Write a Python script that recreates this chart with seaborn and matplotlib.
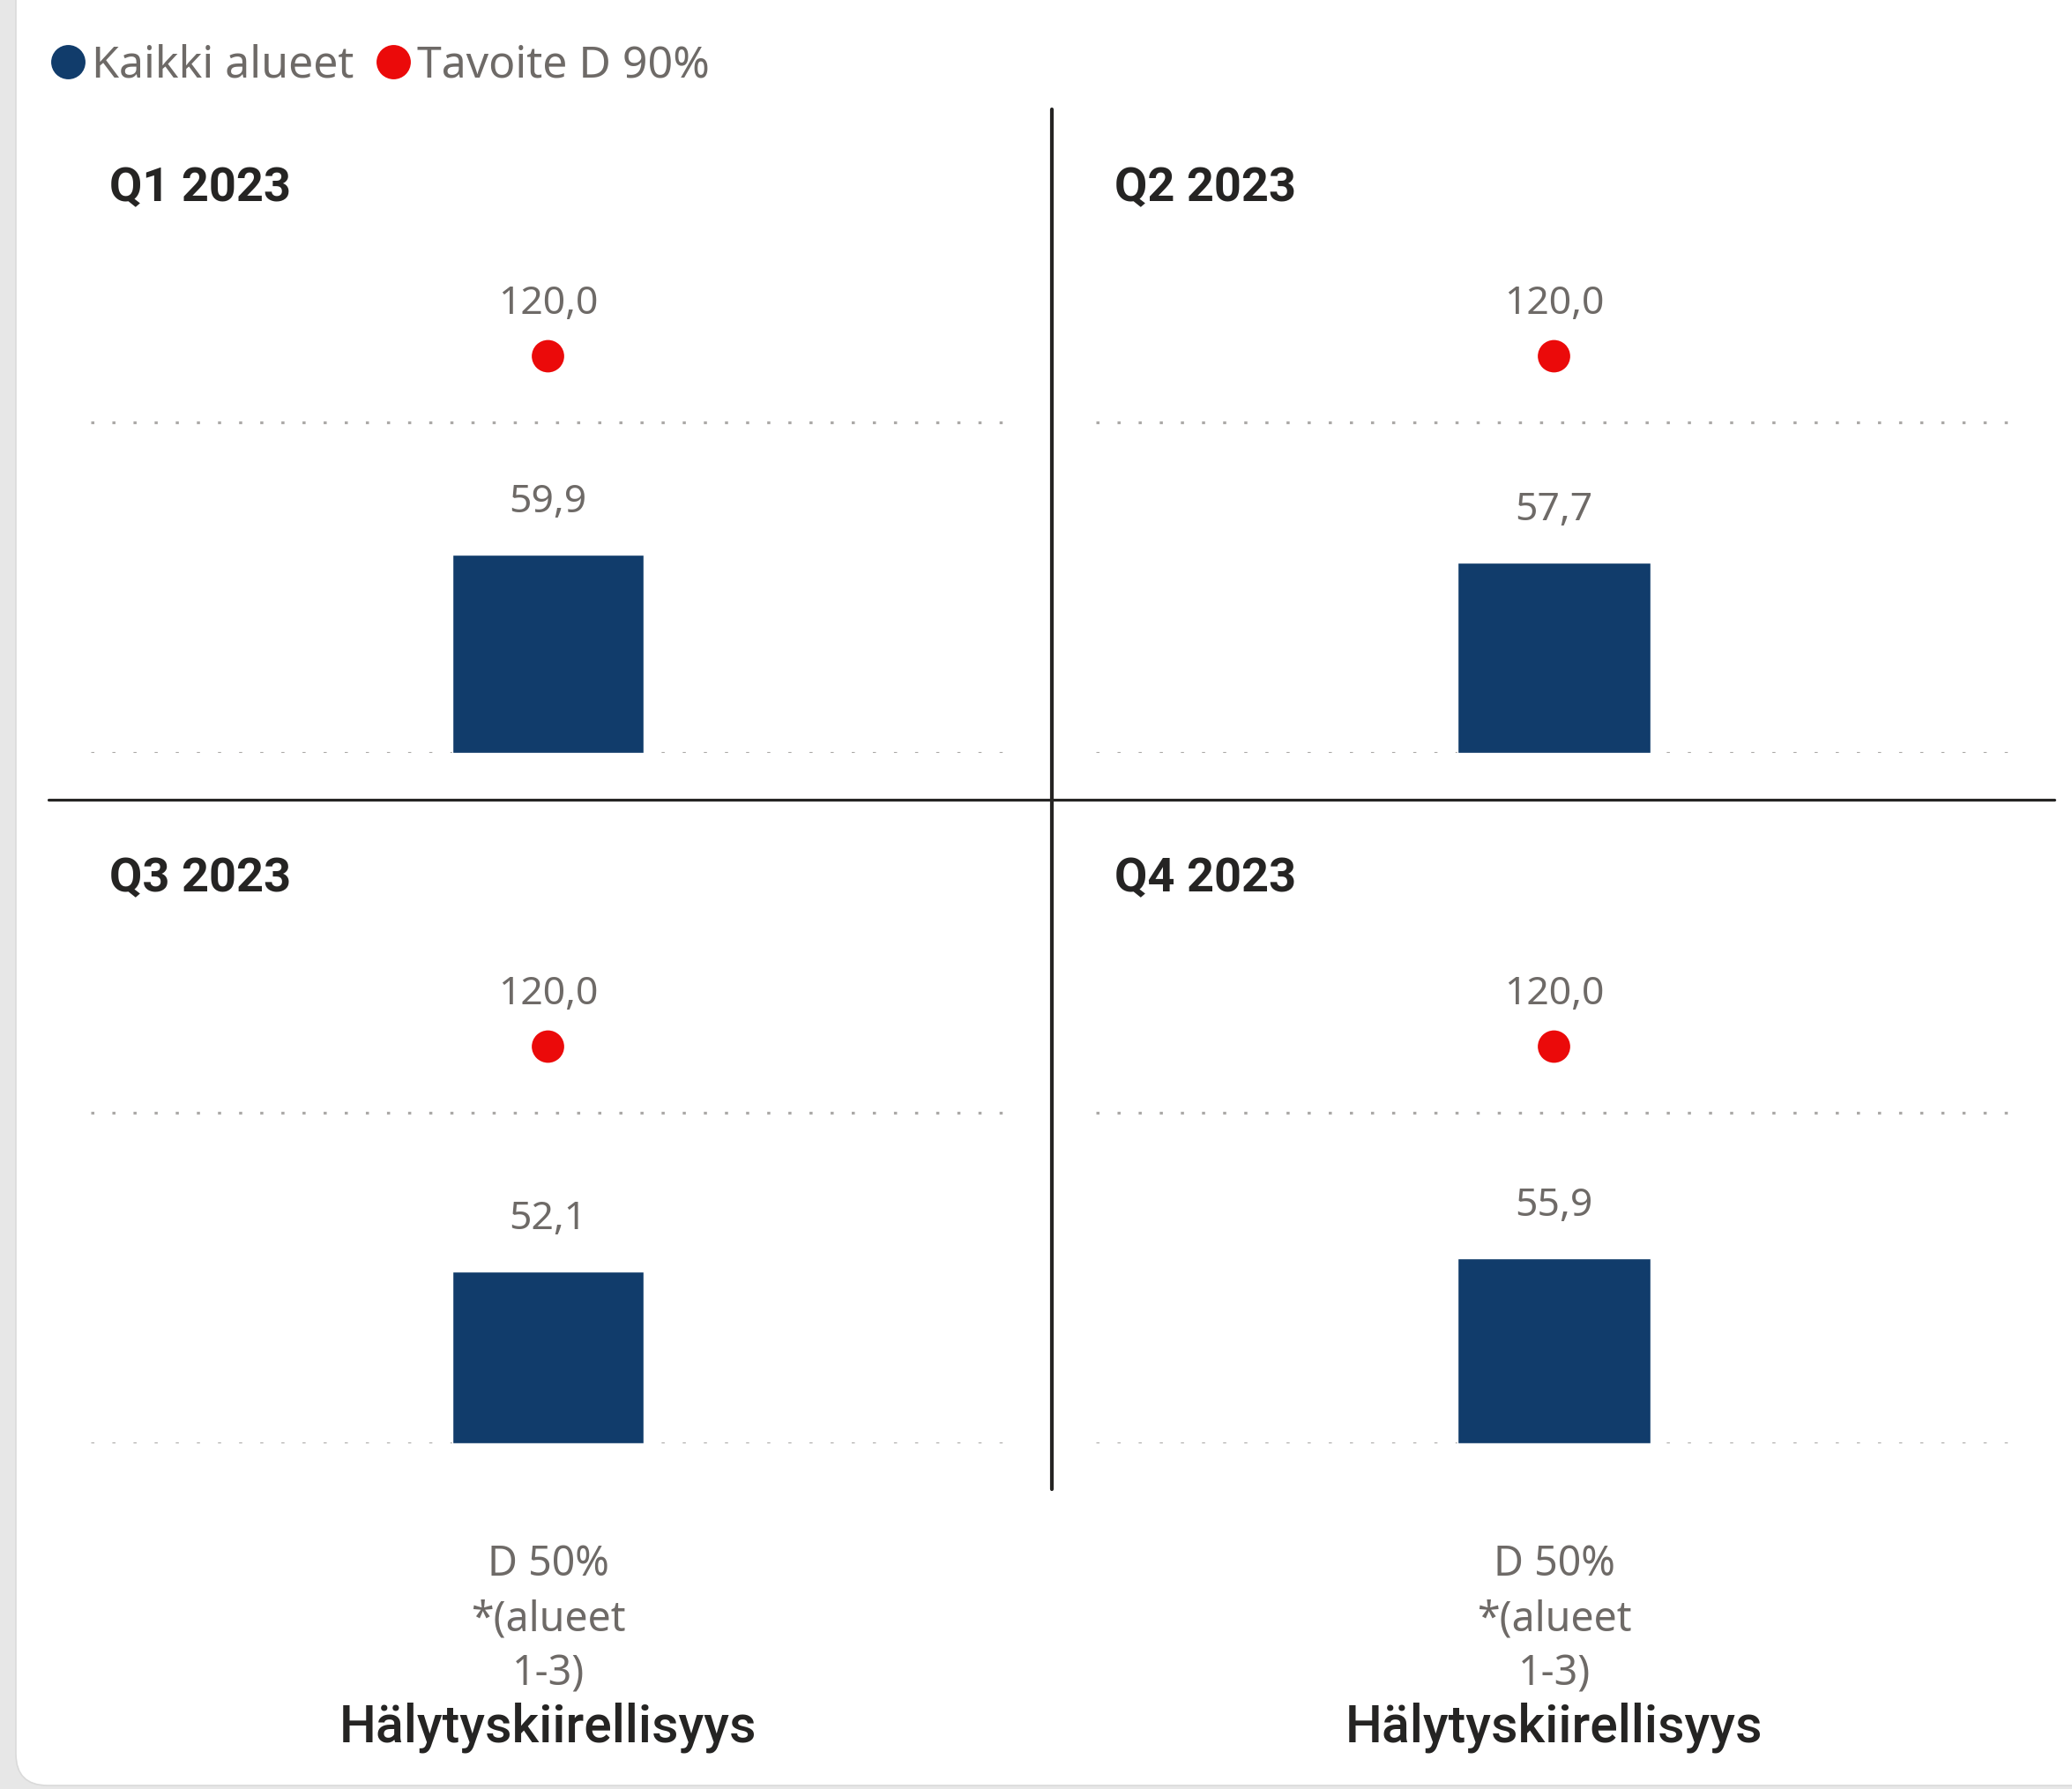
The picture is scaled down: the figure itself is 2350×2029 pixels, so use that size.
import matplotlib
matplotlib.use("Agg")
import matplotlib.pyplot as plt
from matplotlib.patches import FancyBboxPatch
from matplotlib.lines import Line2D
from matplotlib.transforms import IdentityTransform
import seaborn as sns
import pandas as pd

# ---- data ----
quarters = ["Q1 2023", "Q2 2023", "Q3 2023", "Q4 2023"]
kaikki_alueet = [59.9, 57.7, 52.1, 55.9]
tavoite = [120.0, 120.0, 120.0, 120.0]
category = "D 50%\n*(alueet\n1-3)"
axis_title = "Hälytyskiirellisyys"
legend_labels = ["Kaikki alueet", "Tavoite D 90%"]

BAR = "#113C6B"
RED = "#EB0A0A"
GREY_TXT = "#6E6A67"
DARK = "#252423"
GRID = "#ABA9A7"

sns.set_theme(style="white")
plt.rcParams["font.family"] = ["Noto Sans", "DejaVu Sans"]

W, H, DPI = 2350, 2029, 100
fig = plt.figure(figsize=(W / DPI, H / DPI), dpi=DPI)
fig.patch.set_facecolor("#E7E7E7")

# white card with rounded corners
card = FancyBboxPatch((18, 4), W + 40, H + 40,
                      boxstyle="round,pad=0,rounding_size=36",
                      facecolor="white", edgecolor="#DADADA", linewidth=1.2,
                      transform=IdentityTransform(), zorder=0)
fig.add_artist(card)

def fmt(v):
    return f"{v:.1f}".replace(".", ",")

# axes geometry in pixels (from top)
cols = [(103, 1140), (1243, 2282)]
rows = [854, 1637]          # y pixel of value 0
px_per_unit = 3.75
ymax = 160

for i, q in enumerate(quarters):
    r, c = divmod(i, 2)
    x0, x1 = cols[c]
    base = rows[r]
    top = base - ymax * px_per_unit
    ax = fig.add_axes([x0 / W, (H - base) / H, (x1 - x0) / W, (base - top) / H])
    ax.set_facecolor("none")

    df = pd.DataFrame({"kategoria": [category], "arvo": [kaikki_alueet[i]],
                       "tavoite": [tavoite[i]]})
    sns.barplot(data=df, x="kategoria", y="arvo", color=BAR, width=0.21,
                saturation=1, ax=ax, zorder=3)
    sns.scatterplot(data=df, x="kategoria", y="tavoite", color=RED, s=700,
                    edgecolor="none", ax=ax, zorder=4, clip_on=False)

    ax.set_xlim(-0.5, 0.5)
    ax.set_ylim(0, ymax)
    for yv in (0, 100):
        ax.axhline(yv, color=GRID, lw=2.3, linestyle=(0, (1.1, 6.4)), zorder=1)

    for v in (kaikki_alueet[i], tavoite[i]):
        ax.annotate(fmt(v), xy=(0, v), xytext=(0, 42.5), textcoords="offset points",
                    ha="center", va="center", fontsize=32, color=GREY_TXT,
                    annotation_clip=False)

    ax.annotate(q, xy=(0, 1), xycoords="axes fraction", xytext=(15, 29),
                textcoords="offset points", ha="left", va="center",
                fontsize=39, fontweight="bold", color=DARK,
                family=["Roboto", "DejaVu Sans"])

    for s in ax.spines.values():
        s.set_visible(False)
    ax.set_yticks([])
    ax.set_ylabel("")
    ax.tick_params(axis="x", length=0)
    if r == 1:
        ax.set_xticks([0])
        ax.set_xticklabels([category], fontsize=33.5, color=GREY_TXT, linespacing=1.42)
        ax.tick_params(axis="x", pad=82)
        ax.set_xlabel(axis_title, fontsize=42.5, color=DARK, labelpad=6,
                      fontweight="medium", family=["Roboto", "DejaVu Sans"])
    else:
        ax.set_xticks([])
        ax.set_xlabel("")

# quadrant dividers
fig.add_artist(Line2D([1193 / W, 1193 / W], [(H - 124) / H, (H - 1689) / H],
                      color=DARK, lw=3, transform=fig.transFigure))
fig.add_artist(Line2D([55 / W, 2330 / W], [(H - 907) / H, (H - 907) / H],
                      color=DARK, lw=2.3, transform=fig.transFigure))

# legend
handles = [Line2D([], [], marker="o", linestyle="none", markersize=28,
                  markerfacecolor=col, markeredgecolor="none")
           for col in (BAR, RED)]
fig.legend(handles, legend_labels, loc="center left",
           bbox_to_anchor=(62 / W, (H - 74) / H), ncol=2, frameon=False,
           fontsize=36, labelcolor=GREY_TXT, handlelength=0.6,
           handletextpad=0.24, columnspacing=0.59, borderpad=0, borderaxespad=0)

fig.savefig("out.png", dpi=DPI, facecolor=fig.get_facecolor())
